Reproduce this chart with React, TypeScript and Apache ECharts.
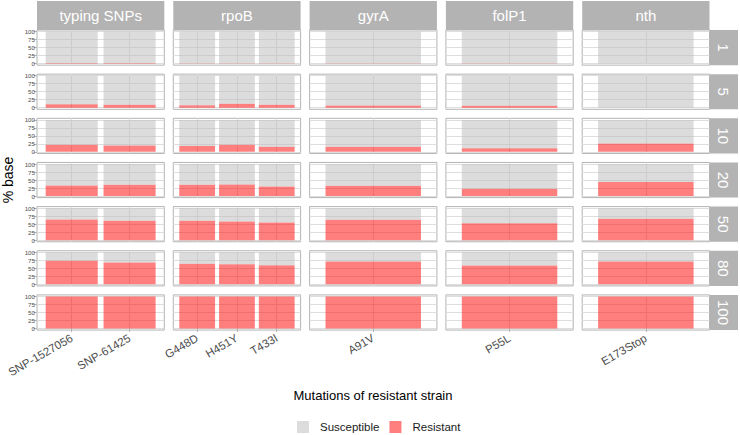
import React, { useEffect, useRef } from 'react';
import * as echarts from 'echarts';

// ---- data ----
const genes = ['typing SNPs', 'rpoB', 'gyrA', 'folP1', 'nth'];
const dilutions = ['1', '5', '10', '20', '50', '80', '100'];

const typingSNPsMutations = ['SNP-1527056', 'SNP-61425'];
const rpoBMutations = ['G448D', 'H451Y', 'T433I'];
const gyrAMutations = ['A91V'];
const folP1Mutations = ['P55L'];
const nthMutations = ['E173Stop'];

// % of bases from the resistant strain, one row per dilution (1,5,10,20,50,80,100)
const typingSNPsResistant = [[1.5, 1.5], [11, 9], [22, 20], [33, 35], [65, 61], [74, 68], [100, 100]];
const rpoBResistant = [[1, 1, 1], [8, 12, 9], [18, 22, 16], [35, 36, 30], [61, 58, 55], [64, 63, 60], [100, 100, 100]];
const gyrAResistant = [[1], [7], [16], [32], [64], [71], [100]];
const folP1Resistant = [[1], [6], [11], [23], [53], [59], [100]];
const nthResistant = [[0], [0], [26], [44], [67], [71], [100]];

const yTicks = [0, 25, 50, 75, 100];
const legendNames = ['Susceptible', 'Resistant'];

// ---- layout / style ----
const FONT = 'Liberation Sans, Arial, sans-serif';
const LEFT = 37;
const PANEL_W = 127.3;
const COL_STEP = 136.3;
const TOP = 30;
const PANEL_H = 35.15;
const ROW_STEP = 44.15;
const STRIP_TOP = 1;
const STRIP_H = 29;
const ROW_STRIP_W = 28.5;
const STRIP_FILL = '#B3B3B3';
const GRID_LINE = '#DEDEDE';
const RES_COLOR = 'rgba(255,0,0,0.5)';
const SUS_COLOR = 'rgba(185,185,185,0.5)';

export default function App() {
  const ref = useRef<HTMLDivElement>(null);

  useEffect(() => {
    const chart = echarts.init(ref.current as HTMLDivElement, null, {
      renderer: 'svg',
      width: 740,
      height: 435,
    });

    const geneMutations = [typingSNPsMutations, rpoBMutations, gyrAMutations, folP1Mutations, nthMutations];
    const geneResistant = [typingSNPsResistant, rpoBResistant, gyrAResistant, folP1Resistant, nthResistant];

    const grids: any[] = [];
    const xAxes: any[] = [];
    const yAxes: any[] = [];
    const series: any[] = [];
    const graphics: any[] = [];

    dilutions.forEach((dil, r) => {
      genes.forEach((gene, c) => {
        const k = grids.length;
        const muts = geneMutations[c];
        const n = muts.length;
        const left = LEFT + c * COL_STEP;
        const top = TOP + r * ROW_STEP;
        const unit = PANEL_W / (n + 0.2);
        const isBottom = r === dilutions.length - 1;
        const isLeft = c === 0;
        const positions = muts.map((_, i) => i + 1);

        grids.push({
          left,
          top,
          width: PANEL_W,
          height: PANEL_H,
          show: true,
          backgroundColor: '#FFFFFF',
          borderColor: '#B3B3B3',
          borderWidth: 1,
        });
        xAxes.push({
          type: 'value',
          gridIndex: k,
          min: 0.4,
          max: n + 0.6,
          axisLine: { show: false },
          axisTick: {
            show: isBottom,
            customValues: positions,
            length: 3.5,
            lineStyle: { color: '#B3B3B3' },
          },
          axisLabel: {
            show: isBottom,
            customValues: positions,
            rotate: 30,
            margin: 7,
            fontSize: 11.5,
            fontFamily: FONT,
            color: '#4D4D4D',
            formatter: (v: number) => muts[Math.round(v) - 1] ?? '',
          },
          splitLine: { show: true, lineStyle: { color: GRID_LINE, width: 1 } },
        });
        yAxes.push({
          type: 'value',
          gridIndex: k,
          min: -5,
          max: 105,
          axisLine: { show: false },
          axisTick: {
            show: isLeft,
            customValues: yTicks,
            length: 3.5,
            lineStyle: { color: '#B3B3B3' },
          },
          axisLabel: {
            show: isLeft,
            customValues: yTicks,
            margin: 2,
            fontSize: 6.2,
            fontFamily: FONT,
            color: '#4D4D4D',
          },
          splitLine: { show: true, lineStyle: { color: GRID_LINE, width: 1 } },
        });

        const res = geneResistant[c][r];
        const barWidth = 0.9 * unit;
        // data items are [value, position] so that stacking applies to the value (y) dimension
        series.push({
          type: 'bar',
          name: 'Resistant',
          xAxisIndex: k,
          yAxisIndex: k,
          stack: 'panel' + k,
          barWidth,
          encode: { x: 1, y: 0 },
          data: positions.map((p, i) => [res[i], p]),
          itemStyle: { color: RES_COLOR },
          emphasis: { disabled: true },
        });
        series.push({
          type: 'bar',
          name: 'Susceptible',
          xAxisIndex: k,
          yAxisIndex: k,
          stack: 'panel' + k,
          barWidth,
          encode: { x: 1, y: 0 },
          data: positions.map((p, i) => [100 - res[i], p]),
          itemStyle: { color: SUS_COLOR },
          emphasis: { disabled: true },
        });
      });
    });

    // column strips
    genes.forEach((gene, c) => {
      const left = LEFT + c * COL_STEP;
      graphics.push({
        type: 'rect',
        shape: { x: left, y: STRIP_TOP, width: PANEL_W, height: STRIP_H },
        style: { fill: STRIP_FILL },
        silent: true,
      });
      graphics.push({
        type: 'text',
        x: left + PANEL_W / 2,
        y: STRIP_TOP + STRIP_H / 2,
        style: {
          text: gene,
          fill: '#FFFFFF',
          fontSize: 15,
          fontFamily: FONT,
          align: 'center',
          verticalAlign: 'middle',
        },
        silent: true,
      });
    });

    // row strips
    const stripX = LEFT + (genes.length - 1) * COL_STEP + PANEL_W;
    dilutions.forEach((dil, r) => {
      const top = TOP + r * ROW_STEP;
      graphics.push({
        type: 'rect',
        shape: { x: stripX, y: top, width: ROW_STRIP_W, height: PANEL_H },
        style: { fill: STRIP_FILL },
        silent: true,
      });
      graphics.push({
        type: 'text',
        x: stripX + ROW_STRIP_W / 2,
        y: top + PANEL_H / 2,
        rotation: -Math.PI / 2,
        style: {
          text: dil,
          fill: '#FFFFFF',
          fontSize: 15,
          fontFamily: FONT,
          align: 'center',
          verticalAlign: 'middle',
        },
        silent: true,
      });
    });

    // axis titles
    graphics.push({
      type: 'text',
      x: 8,
      y: 180,
      rotation: Math.PI / 2,
      style: {
        text: '% base',
        fill: '#000000',
        fontSize: 14,
        fontFamily: FONT,
        align: 'center',
        verticalAlign: 'middle',
      },
      silent: true,
    });
    graphics.push({
      type: 'text',
      x: 373,
      y: 395,
      style: {
        text: 'Mutations of resistant strain',
        fill: '#000000',
        fontSize: 13,
        fontFamily: FONT,
        align: 'center',
        verticalAlign: 'middle',
      },
      silent: true,
    });

    chart.setOption({
      animation: false,
      backgroundColor: '#FFFFFF',
      textStyle: { fontFamily: FONT },
      grid: grids,
      xAxis: xAxes,
      yAxis: yAxes,
      series,
      graphic: graphics,
      legend: {
        data: legendNames,
        left: 297,
        top: 421,
        padding: 0,
        icon: 'rect',
        itemWidth: 12,
        itemHeight: 12,
        itemGap: 10,
        selectedMode: false,
        textStyle: {
          fontSize: 11.5,
          fontFamily: FONT,
          color: '#1A1A1A',
          padding: [0, 0, 0, 6],
        },
      },
    });

    return () => chart.dispose();
  }, []);

  return (
    <div
      ref={ref}
      style={{ position: 'fixed', left: 0, top: 0, width: 740, height: 435, background: '#FFFFFF' }}
    />
  );
}
